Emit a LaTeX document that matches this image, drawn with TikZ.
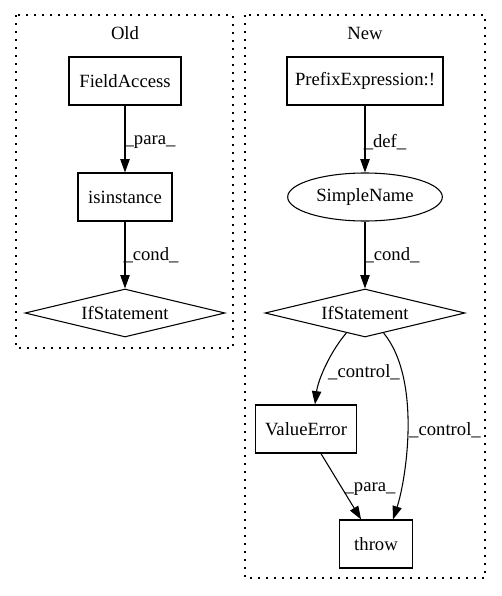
\documentclass[tikz,border=0pt]{standalone}
\usepackage{fontspec}
\setmainfont{Liberation Serif}
\usetikzlibrary{shapes.geometric,arrows.meta,calc}
\begin{document}
\begin{tikzpicture}[x=0.75pt,y=-0.75pt,
  every node/.style={font=\fontsize{14pt}{16pt}\selectfont},
  box/.style={draw,line width=0.8pt,rectangle,minimum height=36pt,inner sep=0pt},
  ell/.style={draw,line width=0.8pt,ellipse,inner sep=0pt,minimum width=116pt,minimum height=36pt},
  dia/.style={draw,line width=0.8pt,diamond,aspect=4.2,inner sep=0pt,minimum width=150pt,minimum height=36pt},
  edge/.style={line width=0.8pt,-{Triangle[length=10pt,width=7pt]}},
  lbl/.style={inner sep=0pt},
  cluster/.style={line width=0.9pt,dash pattern=on 1.3pt off 4.7pt}]
\useasboundingbox (0,0) rectangle (501,596);
% clusters
\draw[cluster] (16,15) rectangle (233,348);
\draw[cluster] (245,15) rectangle (485,578);
\node[lbl] (told) at (125,33) {Old};
\node[lbl] (tnew) at (365,33) {New};
% Old
\node[box,minimum width=84pt] (fa) at (125,81) {FieldAccess};
\node[box,minimum width=70.5pt] (isi) at (125,197) {isinstance};
\node[dia] (if1) at (125,313) {IfStatement};
% New
\node[box,minimum width=117pt] (pe) at (365,81) {PrefixExpression:!};
\node[ell] (sn) at (365,197) {SimpleName};
\node[dia] (if2) at (365,313) {IfStatement};
\node[box,minimum width=76pt] (ve) at (306,429) {ValueError};
\node[box,minimum width=55pt] (th) at (376,544) {throw};
% edges
\draw[edge] (fa) -- (isi);
\draw[edge] (isi) -- (if1.north);
\draw[edge] (pe) -- (sn);
\draw[edge] (sn) -- (if2.north);
\draw[edge] (if2.227) .. controls (330,352) and (318,380) .. ($(ve.north)+(9,0)$);
\draw[edge] (if2.-47) .. controls (422,380) and (406,480) .. ($(th.north)+(17,0)$);
\draw[edge] (ve) -- (th);
% labels
\node[lbl] (l1) at (150,142) {\_para\_};
\node[lbl] (l2) at (151,255) {\_cond\_};
\node[lbl] (l3) at (385,142) {\_def\_};
\node[lbl] (l4) at (392,255) {\_cond\_};
\node[lbl] (l5) at (364,372) {\_control\_};
\node[lbl] (l6) at (445,430) {\_control\_};
\node[lbl] (l7) at (370,489) {\_para\_};
\end{tikzpicture}
\end{document}
